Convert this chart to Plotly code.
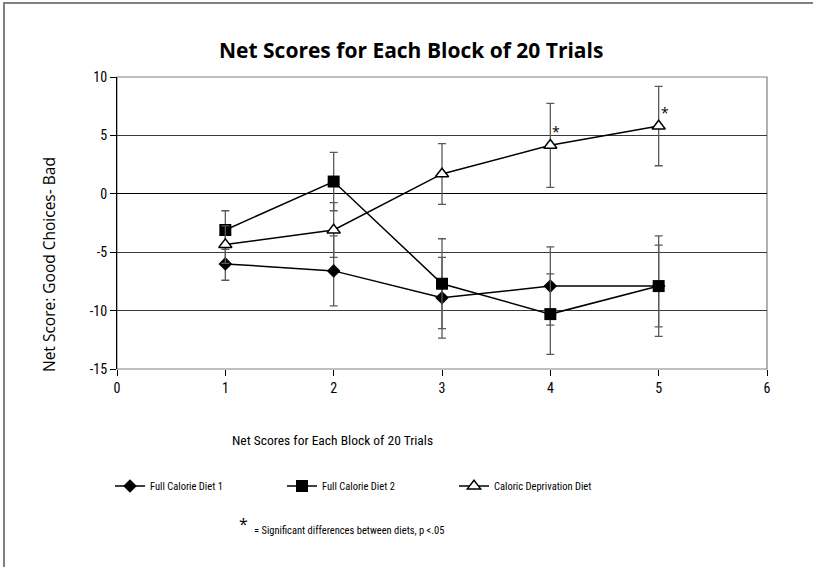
import plotly.graph_objects as go

blocks = [1, 2, 3, 4, 5]
diet1 = [-6.0, -6.6, -8.9, -7.9, -7.9]
diet1_err = [1.4, 3.0, 3.45, 3.35, 3.5]
diet2 = [-3.1, 1.05, -7.7, -10.3, -7.9]
diet2_err = [1.65, 2.5, 3.85, 3.45, 4.3]
deprived = [-4.35, -3.1, 1.7, 4.15, 5.8]
deprived_err = [1.6, 2.35, 2.6, 3.6, 3.4]
sig_blocks = [4, 5]
sig_values = [4.15, 5.8]

series_names = ["Full Calorie Diet 1", "Full Calorie Diet 2", "Caloric Deprivation Diet"]
x_ticks = [0, 1, 2, 3, 4, 5, 6]
y_ticks = [-15, -10, -5, 0, 5, 10]
y_tick_labels = ["-15", "-10", "-5", "0", "5", "10"]

TITLE_FONT = "Open Sans, Noto Sans, sans-serif"
COND = "Roboto Condensed, DejaVu Sans Condensed, sans-serif"
YT_FONT = "Open Sans, Noto Sans, sans-serif"

# plot area in pixels
L, R, T, B = 117, 767, 77, 369
W, H = R - L, B - T


def px(xp):
    return (xp - L) / W


def py(yp):
    return (B - yp) / H


fig = go.Figure()
err_col = "#5a5a5a"

fig.add_trace(go.Scatter(
    x=blocks, y=diet1, name=series_names[0], mode="lines+markers",
    line=dict(color="black", width=1.5),
    marker=dict(symbol="diamond", size=10.5, color="black"),
    error_y=dict(type="data", array=diet1_err, color=err_col, thickness=1.3, width=4),
))
fig.add_trace(go.Scatter(
    x=blocks, y=diet2, name=series_names[1], mode="lines+markers",
    line=dict(color="black", width=1.5),
    marker=dict(symbol="square", size=12, color="black"),
    error_y=dict(type="data", array=diet2_err, color=err_col, thickness=1.3, width=4),
))
fig.add_trace(go.Scatter(
    x=blocks, y=deprived, name=series_names[2], mode="lines+markers",
    line=dict(color="black", width=1.5),
    marker=dict(symbol="triangle-up", size=11.5, color="white", line=dict(color="black", width=1.5)),
    error_y=dict(type="data", array=deprived_err, color=err_col, thickness=1.3, width=4),
))

annotations = []
for xb, yv in zip(sig_blocks, sig_values):
    annotations.append(dict(x=xb, y=yv, xref="x", yref="y", text="*", showarrow=False,
                            xshift=6, yshift=14, font=dict(family=TITLE_FONT, size=14, color="black")))

annotations += [
    dict(x=px(411), y=py(50), xref="paper", yref="paper",
         text="<b>Net Scores for Each Block of 20 Trials</b>", showarrow=False,
         font=dict(family=TITLE_FONT, size=21, color="black"), xanchor="center", yanchor="middle"),
    dict(x=px(332), y=py(440), xref="paper", yref="paper",
         text="Net Scores for Each Block of 20 Trials", showarrow=False,
         font=dict(family=COND, size=13.5, color="black"), xanchor="center", yanchor="middle"),
    dict(x=px(49), y=py(265), xref="paper", yref="paper", textangle=-90,
         text="Net Score: Good Choices- Bad", showarrow=False,
         font=dict(family=YT_FONT, size=15.5, color="black"), xanchor="center", yanchor="middle"),
    dict(x=px(243), y=py(524), xref="paper", yref="paper",
         text="*", showarrow=False,
         font=dict(family=TITLE_FONT, size=16, color="black"), xanchor="center", yanchor="middle"),
    dict(x=px(252), y=py(530), xref="paper", yref="paper",
         text="= Significant differences between diets, p &lt;.05", showarrow=False,
         font=dict(family=COND, size=10.5, color="black"), xanchor="left", yanchor="middle"),
]

shapes = [
    # outer frame (only top and left visible)
    dict(type="rect", xref="paper", yref="paper",
         x0=px(4), x1=px(830), y0=py(590), y1=py(3),
         line=dict(color="#7f7f7f", width=2), layer="below"),
    # plot area border
    dict(type="rect", xref="paper", yref="paper", x0=0, x1=1, y0=0, y1=1,
         line=dict(color="#808080", width=1.2), layer="below"),
]

fig.update_layout(
    width=813, height=567,
    margin=dict(l=L, r=813 - R, t=T, b=567 - B, autoexpand=False),
    paper_bgcolor="white", plot_bgcolor="white",
    showlegend=True,
    legend=dict(orientation="h", x=px(110), y=py(486),
                xanchor="left", yanchor="middle",
                entrywidth=127, entrywidthmode="pixels",
                font=dict(family=COND, size=10.5, color="black"),
                itemwidth=30, tracegroupgap=0),
    annotations=annotations,
    shapes=shapes,
    font=dict(family=COND, color="black"),
)

fig.update_xaxes(range=[0, 6], tickvals=x_ticks, ticks="outside", ticklen=6,
                 tickcolor="black", showgrid=False, zeroline=False, showline=False,
                 tickfont=dict(family=COND, size=14, color="black"), fixedrange=True)
fig.update_yaxes(range=[-15, 10], tickvals=y_ticks, ticktext=y_tick_labels, ticks="outside", ticklen=6,
                 tickcolor="black", showgrid=True, gridcolor="#3a3a3a", gridwidth=1,
                 zeroline=True, zerolinecolor="black", zerolinewidth=1,
                 showline=True, linecolor="black", linewidth=1.2,
                 tickfont=dict(family=COND, size=14, color="black"), fixedrange=True)

fig.write_html("out.html", config={"displayModeBar": False},
               post_script="document.body.style.margin='0';")
